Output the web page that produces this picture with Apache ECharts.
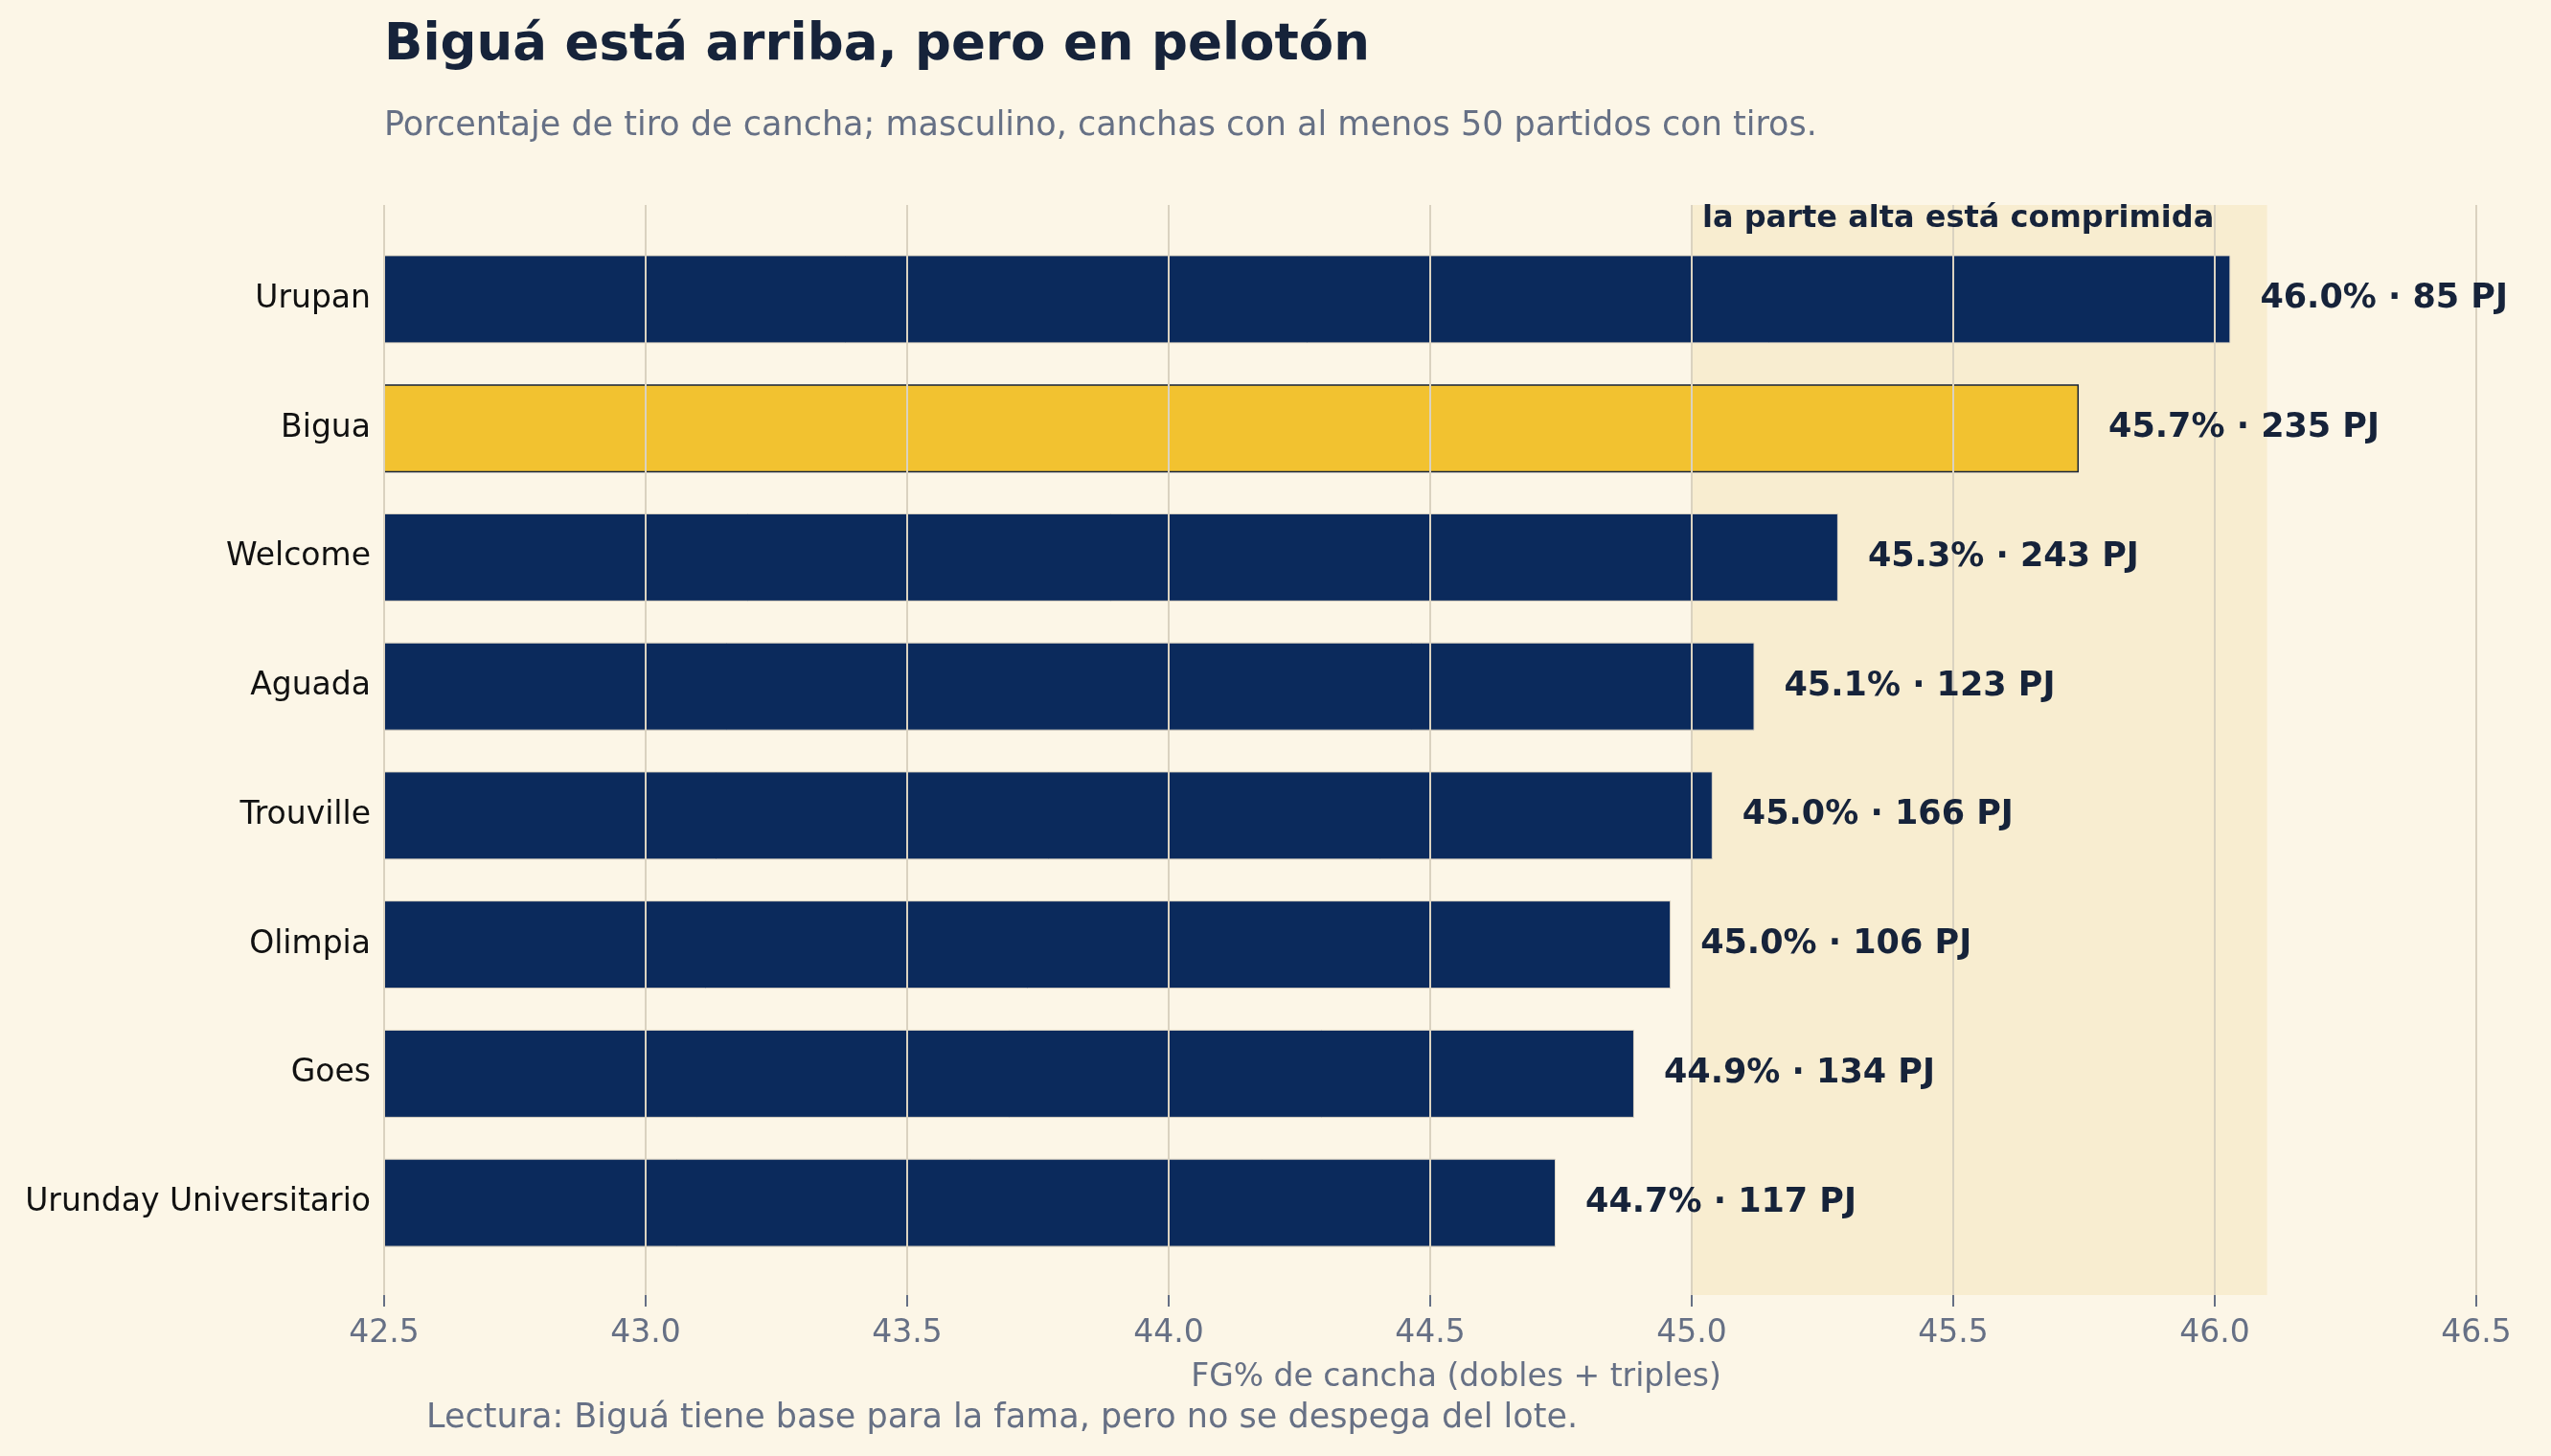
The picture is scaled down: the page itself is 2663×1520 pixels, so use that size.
<!DOCTYPE html>
<html>
<head>
<meta charset="utf-8">
<script src="https://cdn.jsdelivr.net/npm/echarts@6/dist/echarts.min.js"></script>
<style>
  html, body { margin: 0; padding: 0; background: #FCF6E7; }
  #chart { width: 2663px; height: 1520px; }
</style>
</head>
<body>
<div id="chart"></div>
<script>
// canchas, de arriba hacia abajo
var canchas = ['Urupan', 'Bigua', 'Welcome', 'Aguada', 'Trouville', 'Olimpia', 'Goes', 'Urunday Universitario'];
// FG% de cancha
var fgPct = [46.03, 45.74, 45.28, 45.12, 45.04, 44.96, 44.89, 44.74];
// partidos jugados
var partidos = [85, 235, 243, 123, 166, 106, 134, 117];
var destacada = 'Bigua';
// zona sombreada (parte alta)
var zonaAlta = [45.0, 46.1];
var xMin = 42.5, xMax = 46.5, xPaso = 0.5;

var navy = '#0B2A5C';
var amarillo = '#F2C230';
var tinta = '#16233A';
var gris = '#667085';
var fuente = 'DejaVu Sans';

var chart = echarts.init(document.getElementById('chart'));

var barData = fgPct.map(function (v, i) {
    var esDestacada = canchas[i] === destacada;
    return {
        value: v,
        itemStyle: {
            color: esDestacada ? amarillo : navy,
            borderColor: esDestacada ? tinta : '#E2D9C6',
            borderWidth: esDestacada ? 1.5 : 1
        }
    };
});

// puntos invisibles al final de cada barra, solo para las etiquetas
var labelData = fgPct.map(function (v, i) {
    return [v, canchas[i]];
});

var option = {
    backgroundColor: '#FCF6E7',
    animation: false,
    textStyle: { fontFamily: fuente },
    grid: [
        // area completa del grafico (grilla, zona, eje x)
        { left: 401, right: 78, top: 214, height: 1138 },
        // area de las barras
        { left: 401, right: 78, top: 245, height: 1078 }
    ],
    xAxis: [{
        gridIndex: 0,
        type: 'value',
        min: xMin,
        max: xMax,
        interval: xPaso,
        z: 3,
        axisLine: { show: false },
        axisTick: { show: true, length: 12, lineStyle: { color: gris, width: 2 } },
        axisLabel: {
            margin: 24,
            color: gris,
            fontSize: 33,
            fontFamily: fuente,
            formatter: function (v) { return v.toFixed(1); }
        },
        splitLine: { show: true, lineStyle: { color: '#DAD2C0', width: 2 } },
        name: 'FG% de cancha (dobles + triples)',
        nameLocation: 'middle',
        nameGap: 70,
        nameTextStyle: { color: gris, fontSize: 33, fontFamily: fuente, padding: [0, 0, 0, 54] }
    }, {
        gridIndex: 1,
        type: 'value',
        min: xMin,
        max: xMax,
        show: false
    }],
    yAxis: [{
        gridIndex: 0,
        type: 'value',
        min: 0,
        max: 1,
        show: false
    }, {
        gridIndex: 1,
        type: 'category',
        inverse: true,
        data: canchas,
        axisLine: { show: false },
        axisTick: { show: false },
        axisLabel: { color: '#111111', fontSize: 33, fontFamily: fuente, margin: 14 }
    }],
    series: [{
        // zona sombreada
        type: 'line',
        xAxisIndex: 0,
        yAxisIndex: 0,
        data: [],
        z: 1,
        markArea: {
            silent: true,
            itemStyle: { color: '#F8EDD0' },
            data: [[{ xAxis: zonaAlta[0] }, { xAxis: zonaAlta[1] }]]
        }
    }, {
        type: 'bar',
        xAxisIndex: 1,
        yAxisIndex: 1,
        barWidth: 92,
        z: 2,
        data: barData
    }, {
        type: 'scatter',
        xAxisIndex: 1,
        yAxisIndex: 1,
        symbolSize: 0,
        silent: true,
        z: 5,
        itemStyle: { opacity: 1, color: tinta },
        data: labelData,
        label: {
            show: true,
            position: 'right',
            distance: 31,
            color: tinta,
            opacity: 1,
            fontSize: 35,
            fontWeight: 'bold',
            fontFamily: fuente,
            formatter: function (p) {
                return p.value[0].toFixed(1) + '% · ' + partidos[p.dataIndex] + ' PJ';
            }
        }
    }],
    graphic: [{
        type: 'text',
        left: 401,
        top: 22,
        style: { text: 'Biguá está arriba, pero en pelotón', fill: tinta, font: 'bold 53px "DejaVu Sans"' }
    }, {
        type: 'text',
        left: 401,
        top: 114,
        style: { text: 'Porcentaje de tiro de cancha; masculino, canchas con al menos 50 partidos con tiros.', fill: gris, font: '35px "DejaVu Sans"' }
    }, {
        type: 'text',
        left: 1777,
        top: 213,
        z: 10,
        style: { text: 'la parte alta está comprimida', fill: tinta, font: 'bold 32px "DejaVu Sans"' }
    }, {
        type: 'text',
        left: 445,
        top: 1463,
        style: { text: 'Lectura: Biguá tiene base para la fama, pero no se despega del lote.', fill: gris, font: '35px "DejaVu Sans"' }
    }]
};

chart.setOption(option);
window.addEventListener('resize', chart.resize);
</script>
</body>
</html>
